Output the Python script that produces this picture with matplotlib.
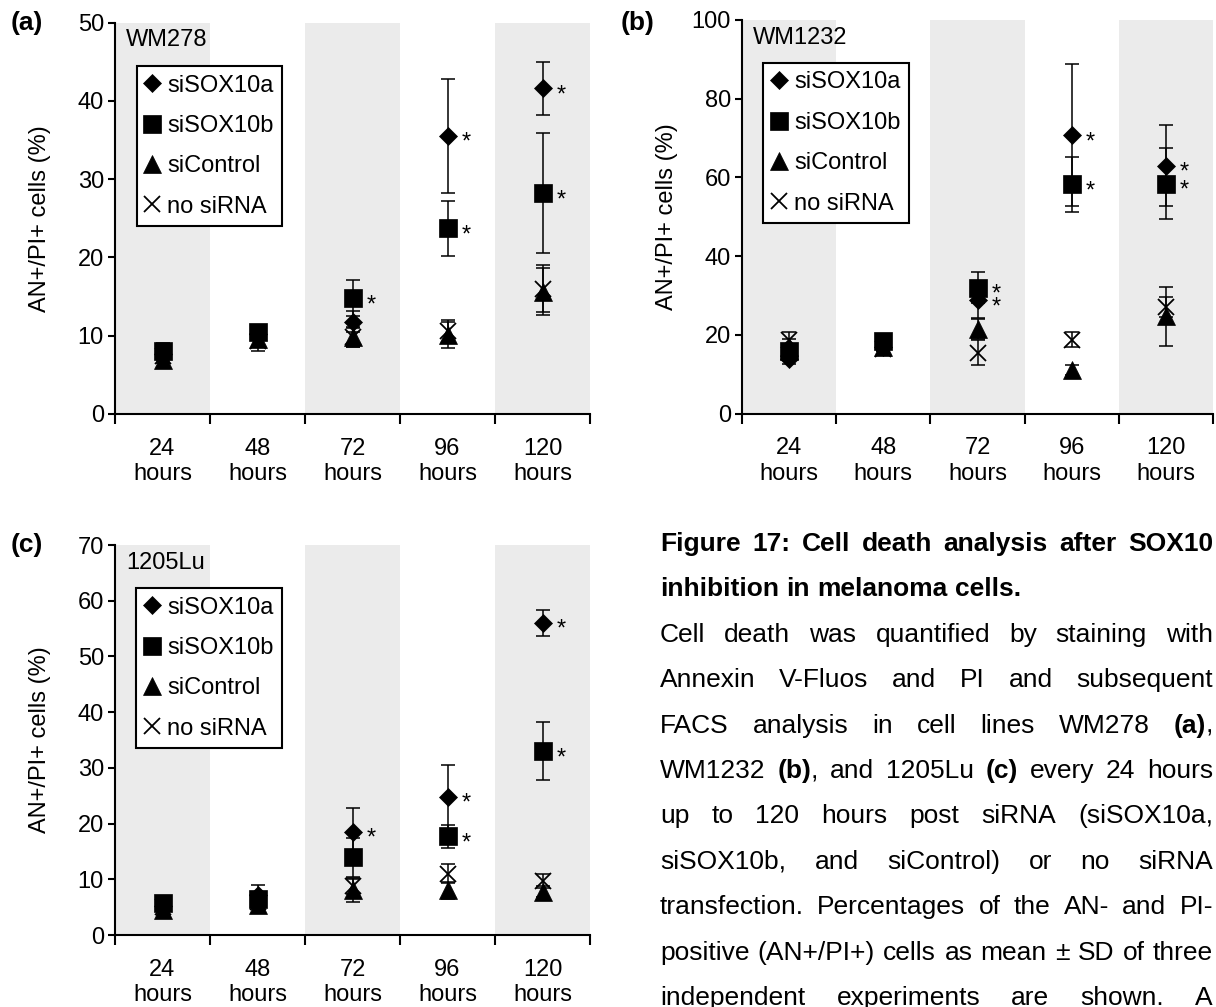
import matplotlib
matplotlib.use("Agg")
import numpy as np
import matplotlib.pyplot as plt

plt.rcParams['font.family'] = ['Liberation Sans', 'DejaVu Sans']

hours = ["24", "48", "72", "96", "120"]
groups = ["siSOX10a", "siSOX10b", "siControl", "no siRNA"]

# (a) WM278, mean and SD per time point
wm278_sox10a = [7.6, 10.2, 11.8, 35.5, 41.6]
wm278_sox10a_sd = [0.8, 0.8, 1.3, 7.3, 3.4]
wm278_sox10b = [8.1, 10.5, 14.8, 23.7, 28.2]
wm278_sox10b_sd = [1.0, 0.9, 2.3, 3.5, 7.7]
wm278_ctrl = [6.9, 9.6, 9.8, 10.1, 15.6]
wm278_ctrl_sd = [1.0, 0.9, 1.2, 1.7, 3.0]
wm278_none = [7.4, 9.3, 9.8, 10.6, 16.0]
wm278_none_sd = [0.9, 1.2, 1.3, 1.4, 3.0]

# (b) WM1232
wm1232_sox10a = [13.8, 17.0, 28.8, 70.7, 63.0]
wm1232_sox10a_sd = [1.2, 1.0, 4.5, 18.0, 10.2]
wm1232_sox10b = [16.0, 18.5, 32.0, 58.2, 58.4]
wm1232_sox10b_sd = [1.5, 1.2, 4.0, 7.0, 9.0]
wm1232_ctrl = [17.0, 16.8, 21.5, 11.0, 24.7]
wm1232_ctrl_sd = [2.0, 1.0, 2.5, 1.2, 7.5]
wm1232_none = [18.8, 16.3, 15.5, 18.8, 27.0]
wm1232_none_sd = [2.0, 1.2, 3.2, 2.0, 2.5]

# (c) 1205Lu
lu1205_sox10a = [5.2, 7.2, 18.5, 24.8, 56.0]
lu1205_sox10a_sd = [0.8, 1.8, 4.3, 5.8, 2.3]
lu1205_sox10b = [5.7, 6.4, 14.0, 17.7, 33.0]
lu1205_sox10b_sd = [0.8, 1.2, 3.5, 2.0, 5.2]
lu1205_ctrl = [4.4, 5.4, 8.0, 8.0, 7.8]
lu1205_ctrl_sd = [0.8, 0.8, 2.0, 1.6, 1.0]
lu1205_none = [5.0, 6.0, 8.8, 11.0, 9.7]
lu1205_none_sd = [0.8, 1.0, 1.5, 1.7, 1.3]

# significant points (group index, time index)
stars_a = [(0, 3), (0, 4), (1, 2), (1, 3), (1, 4)]
stars_b = [(0, 2), (0, 3), (0, 4), (1, 2), (1, 3), (1, 4)]
stars_c = [(0, 2), (0, 3), (0, 4), (1, 3), (1, 4)]

W, H = 1216, 1007
fig = plt.figure(figsize=(W / 100, H / 100), dpi=100)

markers = {"siSOX10a": ("D", 9.2), "siSOX10b": ("s", 12.3),
           "siControl": ("^", 13), "no siRNA": ("x", 11.5)}
FS = 17


def px_rect(left, top, right, bottom):
    return [left / W, 1 - bottom / H, (right - left) / W, (bottom - top) / H]


def draw_panel(rect, letter, letter_xy, cell_line, means, sds, stars, ymax, ystep, leg_xy):
    ax = fig.add_axes(rect)
    x = np.arange(len(hours)) + 0.5
    for s in range(0, len(hours), 2):
        ax.axvspan(s, s + 1, color="#ebebeb", lw=0, zorder=0)
    handles = {}
    for i in [3, 2, 0, 1]:
        ax.errorbar(x, means[i], yerr=sds[i], fmt="none", ecolor="k",
                    elinewidth=1.1, capsize=5.2, capthick=1.1, zorder=2)
    for i in [3, 2, 0, 1]:
        m, ms = markers[groups[i]]
        h, = ax.plot(x, means[i], ls="none", marker=m, ms=ms, color="k",
                     mew=1.3 if m == "x" else 0.5, zorder=3, label=groups[i])
        handles[groups[i]] = h
    for gi, ti in stars:
        ax.annotate("*", (x[ti], means[gi][ti]), xytext=(13.5, -5),
                    textcoords="offset points", ha="center", va="center",
                    fontsize=FS, zorder=4)
    ax.set_xlim(0, len(hours))
    ax.set_ylim(0, ymax)
    ax.set_xticks(x)
    ax.set_xticklabels([h + "\nhours" for h in hours])
    ax.set_xticks(np.arange(len(hours) + 1), minor=True)
    ax.tick_params(axis="x", which="major", length=0, pad=17, labelsize=FS)
    ax.tick_params(axis="x", which="minor", length=7, width=1.5, direction="out")
    ax.set_yticks(np.arange(0, ymax + 1, ystep))
    ax.tick_params(axis="y", length=5, width=1.5, pad=3, labelsize=FS)
    for sp in ["top", "right"]:
        ax.spines[sp].set_visible(False)
    for sp in ["left", "bottom"]:
        ax.spines[sp].set_linewidth(1.5)
    ax.set_ylabel("AN+/PI+ cells (%)", fontsize=FS)
    ax.yaxis.set_label_coords(-0.135, 0.5)
    ax.text(0.023, 0.955, cell_line, transform=ax.transAxes, fontsize=FS,
            ha="left", va="center")
    leg = ax.legend([handles[g] for g in groups], groups, loc="upper left",
                    bbox_to_anchor=(leg_xy[0] / W, 1 - leg_xy[1] / H),
                    bbox_transform=fig.transFigure, borderaxespad=0,
                    fontsize=FS, frameon=True, fancybox=False, framealpha=1,
                    handlelength=0.6, handletextpad=0.35, labelspacing=0.78,
                    borderpad=0.36, numpoints=1)
    leg.get_frame().set_edgecolor("k")
    leg.get_frame().set_linewidth(1.5)
    leg.set_zorder(5)
    fig.text(letter_xy[0] / W, 1 - letter_xy[1] / H, letter, fontsize=19,
             fontweight="bold", ha="left", va="center")
    return ax


draw_panel(px_rect(115, 22.5, 590, 414), "(a)", (11, 23), "WM278",
           [wm278_sox10a, wm278_sox10b, wm278_ctrl, wm278_none],
           [wm278_sox10a_sd, wm278_sox10b_sd, wm278_ctrl_sd, wm278_none_sd],
           stars_a, 50, 10, (136.5, 66))
draw_panel(px_rect(742, 20, 1213, 413.5), "(b)", (621, 23), "WM1232",
           [wm1232_sox10a, wm1232_sox10b, wm1232_ctrl, wm1232_none],
           [wm1232_sox10a_sd, wm1232_sox10b_sd, wm1232_ctrl_sd, wm1232_none_sd],
           stars_b, 100, 20, (763, 63))
draw_panel(px_rect(115, 545, 590, 935), "(c)", (11, 545), "1205Lu",
           [lu1205_sox10a, lu1205_sox10b, lu1205_ctrl, lu1205_none],
           [lu1205_sox10a_sd, lu1205_sox10b_sd, lu1205_ctrl_sd, lu1205_none_sd],
           stars_c, 70, 10, (136, 588))

# caption, justified between two x positions; **...** marks bold
caption = [
    ("**Figure 17: Cell death analysis after SOX10**", True),
    ("**inhibition in melanoma cells.**", False),
    ("Cell death was quantified by staining with", True),
    ("Annexin V-Fluos and PI and subsequent", True),
    ("FACS analysis in cell lines WM278 **(a)**,", True),
    ("WM1232 **(b)**, and 1205Lu **(c)** every 24 hours", True),
    ("up to 120 hours post siRNA (siSOX10a,", True),
    ("siSOX10b, and siControl) or no siRNA", True),
    ("transfection. Percentages of the AN- and PI-", True),
    ("positive (AN+/PI+) cells as mean \u00b1 SD of three", True),
    ("independent experiments are shown. A", True),
]
CAP_FS = 19
cap_left, cap_right = 660, 1213
base0, pitch = 551, 45.4
renderer = fig.canvas.get_renderer()


def parse_word(word, bold):
    parts = []
    for k, p in enumerate(word.split("**")):
        if k > 0:
            bold = not bold
        if p:
            parts.append((p, bold))
    return parts, bold


def width_of(s, bold):
    t = fig.text(0, 0, s, fontsize=CAP_FS, fontweight="bold" if bold else "normal")
    w = t.get_window_extent(renderer).width
    t.remove()
    return w


space_w = width_of("a a", False) - width_of("aa", False)
bold = False
for li, (line, justify) in enumerate(caption):
    words = []
    for w in line.split(" "):
        parts, bold = parse_word(w, bold)
        words.append([(p, b, width_of(p, b)) for p, b in parts])
    widths = [sum(p[2] for p in wd) for wd in words]
    if justify and len(words) > 1:
        gap = (cap_right - cap_left - sum(widths)) / (len(words) - 1)
    else:
        gap = space_w
    xpos = cap_left
    ypix = base0 + li * pitch
    for wd, ww in zip(words, widths):
        xx = xpos
        for p, b, pw in wd:
            fig.text(xx / W, 1 - ypix / H, p, fontsize=CAP_FS,
                     fontweight="bold" if b else "normal", ha="left", va="baseline")
            xx += pw
        xpos += ww + gap

fig.savefig("out.png", dpi=100)
